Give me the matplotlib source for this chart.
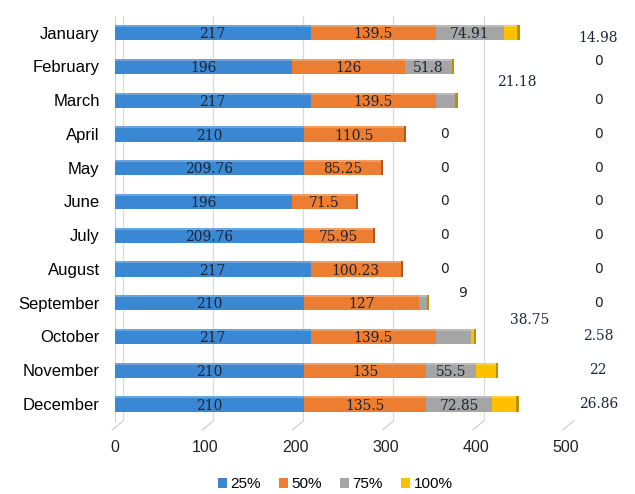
import numpy as np
import matplotlib
matplotlib.use("Agg")
import matplotlib.pyplot as plt
from matplotlib.transforms import ScaledTranslation
from matplotlib.patches import Patch

# ---- data ----
months = ["January", "February", "March", "April", "May", "June", "July",
          "August", "September", "October", "November", "December"]
p25 = [217, 196, 217, 210, 209.76, 196, 209.76, 217, 210, 217, 210, 210]
p50 = [139.5, 126, 139.5, 110.5, 85.25, 71.5, 75.95, 100.23, 127, 139.5, 135, 135.5]
p75 = [74.91, 51.8, 21.18, 0, 0, 0, 0, 0, 9, 38.75, 55.5, 72.85]
p100 = [14.98, 0, 0, 0, 0, 0, 0, 0, 0, 2.58, 22, 26.86]
series_names = ["25%", "50%", "75%", "100%"]
xticks = [0, 100, 200, 300, 400, 500]

colors = ["#3a87d3", "#ed7d31", "#a5a5a5", "#ffc000"]
caps = ["#1f5f9e", "#b8561a", "#7a7a7a", "#b89000"]

# where the small-segment labels end up (x in data units, row offset)
gray_out = {2: (446, -0.55), 3: (366, 0), 4: (366, 0), 5: (366, 0), 6: (366, 0),
            7: (366, 0), 8: (386, -0.3), 9: (460, -0.5)}
yellow_x = 536
yellow_dy = {0: 0.15, 1: -0.15}

fig = plt.figure(figsize=(6.35, 4.94), dpi=100)
ax = fig.add_axes([0.181, 0.148, 0.710, 0.820])

y = np.arange(len(months))
h = 0.45
series = [np.array(p25), np.array(p50), np.array(p75), np.array(p100)]
left = np.zeros(len(months))
for vals, c in zip(series, colors):
    ax.barh(y, vals, left=left, height=h, color=c, edgecolor="none", zorder=3)
    left = left + vals
totals = left

# 3d-ish end caps + top highlight
for i in range(len(months)):
    cap = caps[3] if (p100[i] > 0 or p75[i] > 0) else caps[1]
    ax.barh(y[i], 2.5, left=totals[i], height=h, color=cap, zorder=3)
    ax.barh(y[i] - h / 2 + 0.03, totals[i], height=0.06, color="white",
            alpha=0.25, zorder=4)

lab_kw = dict(ha="center", va="center", fontsize=10, color="#1e2533",
              family="DejaVu Serif", zorder=5)
zero_kw = dict(ha="center", va="center", fontsize=10, color="#222222",
               family="DejaVu Sans", zorder=5)

for i in range(len(months)):
    ax.text(p25[i] / 2, y[i] + 0.05, f"{p25[i]:g}", **lab_kw)
    ax.text(p25[i] + p50[i] / 2, y[i] + 0.05, f"{p50[i]:g}", **lab_kw)
    if i in gray_out:
        gx, dy = gray_out[i]
        kw = zero_kw if p75[i] in (0, 9) else lab_kw
        ax.text(gx, y[i] + dy, f"{p75[i]:g}", clip_on=False, **kw)
    else:
        ax.text(p25[i] + p50[i] + p75[i] / 2, y[i] + 0.05, f"{p75[i]:g}", **lab_kw)
    kw = zero_kw if p100[i] == 0 else lab_kw
    ax.text(yellow_x, y[i] + yellow_dy.get(i, 0), f"{p100[i]:g}",
            clip_on=False, **kw)

ax.set_xlim(0, 500)
ax.set_ylim(len(months) - 0.5, -0.5)
ax.set_yticks(y)
ax.set_yticklabels(months, fontsize=12, family="Liberation Sans")
ax.set_xticks(xticks)
ax.tick_params(axis="y", length=0, pad=11)
ax.tick_params(axis="x", length=0, pad=14, labelsize=11.5)
for t in ax.get_xticklabels():
    t.set_family("Liberation Sans")
    t.set_color("#222222")

for s in ["top", "right", "bottom"]:
    ax.spines[s].set_visible(False)
ax.spines["left"].set_color("#d0d0d0")

ax.grid(axis="x", color="#d9d9d9", linewidth=0.9, zorder=0)
off = ScaledTranslation(8 / 100, 0, fig.dpi_scale_trans)
for ln in ax.get_xgridlines():
    ln.set_transform(ln.get_transform() + off)

# slanted floor lines under the grid
for t in xticks:
    ax.plot([t + 9, t - 3], [0, -0.022], color="#d0d0d0", linewidth=0.9,
            transform=ax.get_xaxis_transform(), clip_on=False, zorder=0)

handles = [Patch(facecolor=c, edgecolor="none") for c in colors]
fig.legend(handles, series_names, loc="center", bbox_to_anchor=(0.528, 0.02),
           ncol=4, frameon=False, handlelength=0.6,
           handleheight=0.6, handletextpad=0.2, columnspacing=1.2,
           prop={"family": "Liberation Sans", "size": 11})

fig.savefig("out.png", dpi=100, facecolor="white")
